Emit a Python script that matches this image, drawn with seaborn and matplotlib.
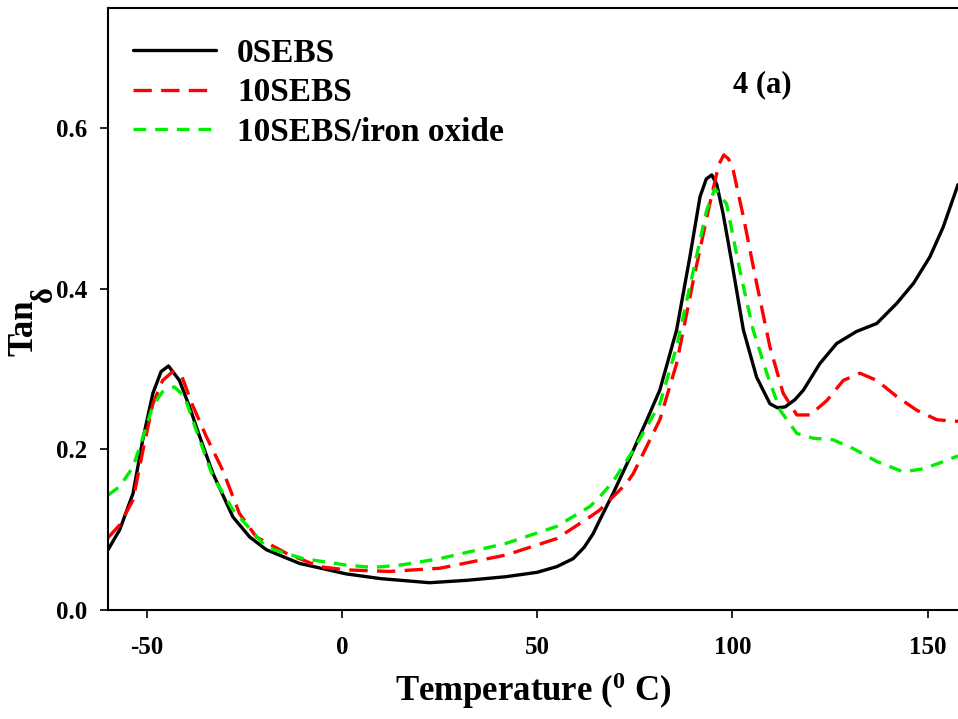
import matplotlib
matplotlib.use("Agg")
import matplotlib.pyplot as plt
import seaborn as sns
import pandas as pd

# ---- data ----
t_0sebs = [-60, -57, -53.6, -51.1, -48.5, -46.4, -44.5, -41.7, -39.1, -36.5, -33.1, -28, -23.7,
           -19.4, -10.9, 1, 10, 22.4, 32, 42, 50, 55, 59.2, 62, 64.3, 66, 69.4, 72, 74.6, 78,
           81.4, 85.7, 89.1, 91.7, 93.3, 94.7, 96, 97.6, 100.2, 102.8, 106.2, 109.6, 111.5,
           113.5, 116, 118.2, 122.4, 126.7, 131.8, 137, 142.1, 146.4, 150.6, 154, 157.8]
v_0sebs = [0.075, 0.100, 0.145, 0.212, 0.270, 0.297, 0.304, 0.286, 0.253, 0.216, 0.170, 0.116, 0.091,
           0.075, 0.058, 0.045, 0.039, 0.034, 0.037, 0.0415, 0.047, 0.054, 0.064, 0.078, 0.095, 0.112,
           0.145, 0.172, 0.199, 0.236, 0.274, 0.349, 0.440, 0.515, 0.537, 0.542, 0.530, 0.494, 0.423,
           0.349, 0.290, 0.257, 0.252, 0.253, 0.262, 0.274, 0.307, 0.332, 0.347, 0.357, 0.382, 0.407,
           0.440, 0.477, 0.530]

t_10sebs = [-60, -57, -53.6, -51, -48.5, -46, -43.4, -41, -38.5, -34.8, -30.6, -26.3, -22, -14.3,
            -5.8, 1, 12, 25, 42, 55, 63.5, 66, 72.9, 74.6, 81.4, 85.7, 90, 94.2, 96.5, 97.8, 99,
            100.2, 102.8, 106.2, 109.6, 113, 116.5, 119.9, 124.2, 128.4, 132.7, 137, 142.1, 147.2,
            152.4, 157.8]
v_10sebs = [0.090, 0.106, 0.137, 0.200, 0.257, 0.286, 0.297, 0.290, 0.257, 0.216, 0.174, 0.120, 0.091,
            0.0706, 0.054, 0.050, 0.048, 0.052, 0.0685, 0.089, 0.116, 0.1245, 0.158, 0.170, 0.237,
            0.307, 0.411, 0.506, 0.555, 0.567, 0.562, 0.548, 0.490, 0.407, 0.328, 0.270, 0.243,
            0.243, 0.261, 0.286, 0.295, 0.286, 0.266, 0.249, 0.237, 0.235]

t_iron = [-60, -57, -53.6, -51, -48.5, -46, -43, -40.4, -37.4, -33.1, -28, -19.4, -10, 1, 7.9, 15,
          25, 42, 54.9, 63.5, 66, 69.4, 74.6, 81.4, 85.7, 90, 93.4, 95.5, 98.5, 101.9, 105.3, 108.8,
          112.2, 116.5, 120.7, 125.8, 131, 137, 143.8, 148.9, 153, 157.8]
v_iron = [0.143, 0.154, 0.178, 0.216, 0.255, 0.272, 0.278, 0.266, 0.224, 0.166, 0.125, 0.078, 0.064,
          0.056, 0.053, 0.056, 0.064, 0.083, 0.104, 0.129, 0.141, 0.160, 0.199, 0.257, 0.328, 0.423,
          0.498, 0.525, 0.506, 0.423, 0.349, 0.295, 0.249, 0.220, 0.214, 0.212, 0.201, 0.185, 0.172,
          0.176, 0.183, 0.192]

series_names = ["0SEBS", "10SEBS", "10SEBS/iron oxide"]
x_ticks = [-50, 0, 50, 100, 150]
y_ticks = [0.0, 0.2, 0.4, 0.6]
y_tick_labels = ["0.0", "0.2", "0.4", "0.6"]

# ---- style ----
sns.set_style("ticks")
plt.rcParams["font.family"] = ["Liberation Serif", "DejaVu Serif"]
plt.rcParams["font.weight"] = "bold"
plt.rcParams["text.color"] = "black"
plt.rcParams["axes.labelcolor"] = "black"
plt.rcParams["xtick.color"] = "black"
plt.rcParams["ytick.color"] = "black"
plt.rcParams["mathtext.fontset"] = "custom"
plt.rcParams["mathtext.rm"] = "Liberation Serif:bold"
plt.rcParams["mathtext.bf"] = "Liberation Serif:bold"
plt.rcParams["mathtext.it"] = "Liberation Serif:bold"

fig = plt.figure(figsize=(9.58, 7.19), dpi=100)
ax = fig.add_axes([108 / 958, 109 / 719, 850 / 958, 602 / 719])

lw = 2.4
df0 = pd.DataFrame({"T": t_0sebs, "v": v_0sebs})
df1 = pd.DataFrame({"T": t_10sebs, "v": v_10sebs})
df2 = pd.DataFrame({"T": t_iron, "v": v_iron})

sns.lineplot(data=df0, x="T", y="v", ax=ax, color="black", lw=lw, label=series_names[0],
             estimator=None, sort=False)
sns.lineplot(data=df1, x="T", y="v", ax=ax, color="#ff0000", lw=lw, label=series_names[1],
             estimator=None, sort=False, linestyle=(0, (5.5, 2.8)))
sns.lineplot(data=df2, x="T", y="v", ax=ax, color="#00ee00", lw=lw, label=series_names[2],
             estimator=None, sort=False, linestyle=(0, (3.8, 2.7)))

ax.set_xlim(-60, 157.8)
ax.set_ylim(0, 0.75)
ax.set_xticks(x_ticks)
ax.set_xticklabels([str(v) for v in x_ticks])
ax.set_yticks(y_ticks)
ax.set_yticklabels(y_tick_labels)
ax.tick_params(axis="both", direction="out", length=6, width=1.2, labelsize=18,
               color="black", labelcolor="black")
ax.tick_params(axis="x", pad=13)
ax.tick_params(axis="y", pad=9)
for lab in ax.get_xticklabels() + ax.get_yticklabels():
    lab.set_fontweight("bold")

for side in ["left", "bottom", "top"]:
    ax.spines[side].set_linewidth(1.5)
    ax.spines[side].set_color("black")
ax.spines["right"].set_visible(False)

ax.set_xlabel("Temperature ($^{0}$ C)", fontsize=25, fontweight="bold", labelpad=8,
              color="black")
ax.set_ylabel("")
fig.text(24 / 958, 1 - 328 / 719, "Tan", rotation=90, fontsize=25, fontweight="bold",
         ha="center", va="center", color="black")
fig.text(44 / 958, 1 - 294 / 719, "δ", rotation=90, fontsize=22, fontweight="bold",
         ha="center", va="center", color="black")

ax.text(107.6, 0.655, "4 (a)", fontsize=22, fontweight="bold", ha="center", va="center",
        color="black")

leg = ax.legend(loc="upper left", bbox_to_anchor=(0.029, 0.950), frameon=False, fontsize=24,
                handlelength=2.5, handletextpad=0.63, labelspacing=0.25, borderpad=0,
                borderaxespad=0)
for txt in leg.get_texts():
    txt.set_fontweight("bold")
    txt.set_color("black")

fig.savefig("out.png", dpi=100)
